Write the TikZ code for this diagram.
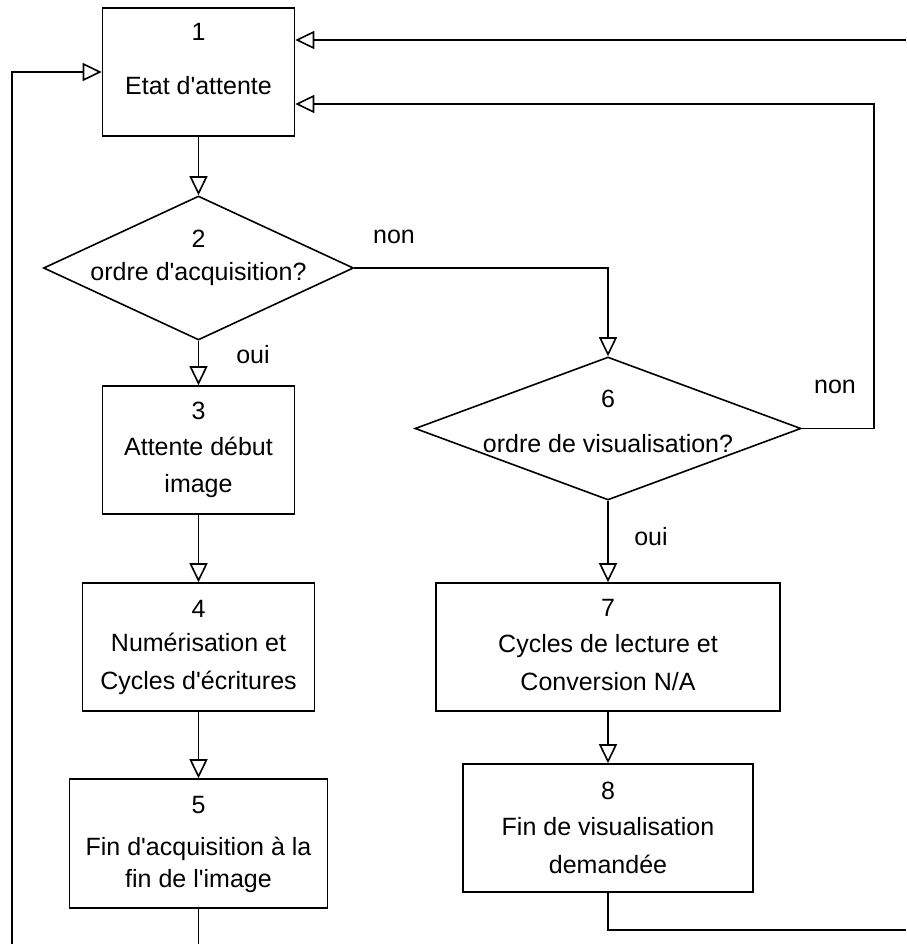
\documentclass[tikz,border=0pt]{standalone}
\usepackage{fontspec}
\setmainfont{Liberation Sans}[Ligatures=TeXOff]
\usetikzlibrary{arrows.meta,shapes.geometric}
\begin{document}
\begin{tikzpicture}[x=1pt,y=-1pt,
  every path/.style={line width=1.6pt},
  box/.style={draw,line width=1.6pt,rectangle,inner sep=0pt},
  decision/.style={draw,line width=1.6pt,diamond,inner sep=0pt},
  lbl/.style={anchor=base,inner sep=0pt,font=\fontsize{25}{30}\selectfont},
  flow/.style={-{Triangle[open,length=19pt,width=18pt]},line width=1.6pt},
  line/.style={line width=1.6pt}]
\useasboundingbox (0,0) rectangle (906,944);

% states and decisions
\node[box,minimum width=192pt,minimum height=128pt] (b1) at (198.5,72) {};
\node[decision,minimum width=310pt,minimum height=144pt] (d2) at (198.5,268) {};
\node[box,minimum width=192pt,minimum height=128pt] (b3) at (198.5,450) {};
\node[box,minimum width=232pt,minimum height=128pt] (b4) at (198.5,647) {};
\node[box,minimum width=258pt,minimum height=129pt] (b5) at (198.5,843.5) {};
\node[decision,minimum width=386pt,minimum height=143pt] (d6) at (608,428.5) {};
\node[box,minimum width=344pt,minimum height=128pt] (b7) at (608,647) {};
\node[box,minimum width=290pt,minimum height=128pt] (b8) at (608,828) {};

% texts
\node[lbl] (t1a) at (198.5,41) {1};
\node[lbl] (t1b) at (198.5,95) {Etat d'attente};
\node[lbl] (t2a) at (198.5,247) {2};
\node[lbl] (t2b) at (198.5,280) {ordre d'acquisition?};
\node[lbl] (t3a) at (198.5,419) {3};
\node[lbl] (t3b) at (198.5,455) {Attente début};
\node[lbl] (t3c) at (198.5,492) {image};
\node[lbl] (t4a) at (198.5,617) {4};
\node[lbl] (t4b) at (198.5,651) {Numérisation et};
\node[lbl] (t4c) at (198.5,689) {Cycles d'écritures};
\node[lbl] (t5a) at (198.5,813) {5};
\node[lbl] (t5b) at (198.5,855) {Fin d'acquisition à la};
\node[lbl] (t5c) at (198.5,887) {fin de l'image};
\node[lbl] (t6a) at (608,407) {6};
\node[lbl] (t6b) at (608,452) {ordre de visualisation?};
\node[lbl] (t7a) at (608,616) {7};
\node[lbl] (t7b) at (608,652) {Cycles de lecture et};
\node[lbl] (t7c) at (608,690) {Conversion N/A};
\node[lbl] (t8a) at (608,799) {8};
\node[lbl] (t8b) at (608,835) {Fin de visualisation};
\node[lbl] (t8c) at (608,873) {demandée};

% branch labels
\node[lbl] (non2) at (394,243) {non};
\node[lbl] (oui2) at (253,363) {oui};
\node[lbl] (non6) at (835,393) {non};
\node[lbl] (oui6) at (651,545) {oui};

% free ends at the picture border
\coordinate (rtop) at (906,40);
\coordinate (rloop) at (874,104);
\coordinate (lloop) at (12,944);
\coordinate (e5) at (198.5,944);
\coordinate (e8) at (906,930);

% connectors
\draw[flow] (b1.south) -- (d2.north);
\draw[flow] (d2.south) -- (b3.north);
\draw[flow] (b3.south) -- (b4.north);
\draw[flow] (b4.south) -- (b5.north);
\draw[line] (b5.south) -- (e5);
\draw[flow] (d2.east) -| (d6.north);
\draw[flow] (d6.south) -- (b7.north);
\draw[flow] (b7.south) -- (b8.north);
\draw[line] (b8.south) |- (e8);
\draw[flow] (d6.east) -| (rloop) -- (b1.east |- rloop);
\draw[flow] (rtop) -- (b1.east |- rtop);
\draw[flow] (lloop) |- (b1.west);
\end{tikzpicture}
\end{document}
